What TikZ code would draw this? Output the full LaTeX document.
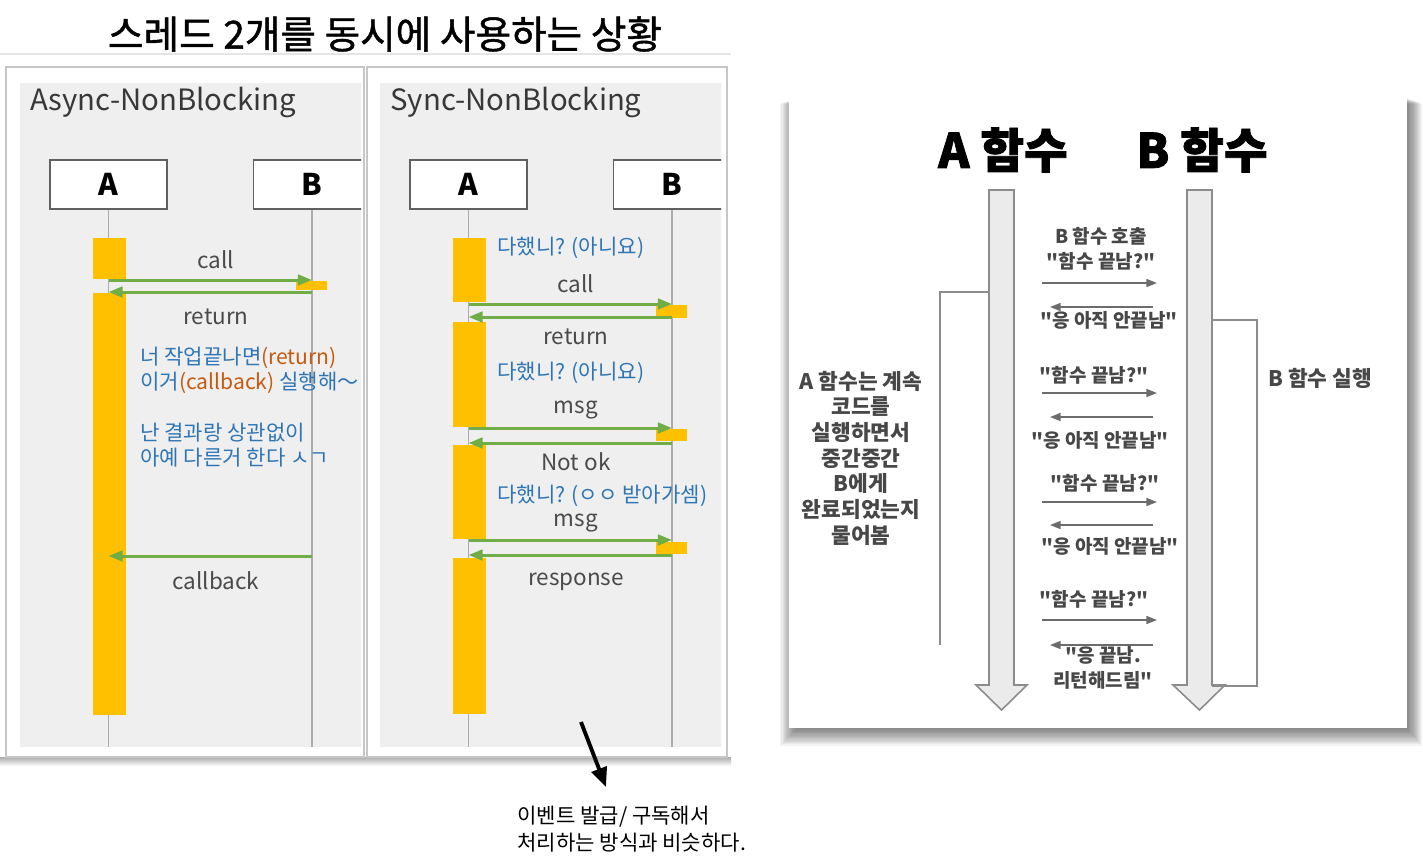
\documentclass[tikz,border=0pt]{standalone}
\usepackage{fontspec}
\setmainfont{Noto Sans CJK KR}[Ligatures=TeXOff]
\newfontfamily\heavyfont{Noto Sans CJK KR}[Ligatures=TeXOff, FakeBold=1.2, BoldFeatures={FakeBold=1.6}]
\usepackage{xcolor}
\usetikzlibrary{arrows.meta}

\definecolor{actyellow}{HTML}{FFC000}
\definecolor{msggreen}{HTML}{70AD47}
\definecolor{noteblue}{HTML}{2E75B6}
\definecolor{noteorange}{HTML}{C55A11}
\definecolor{panelgray}{HTML}{EFEFEF}
\definecolor{labelgray}{HTML}{4A4A4A}
\definecolor{barfill}{HTML}{EBEBEB}

\newcommand{\rtn}[1]{\textcolor{noteorange}{#1}}

\tikzset{
  actor/.style={draw=gray!75!black, fill=white, line width=1.1pt, minimum width=2.34cm, minimum height=0.98cm, inner sep=0, font=\fontsize{17}{20}\selectfont\bfseries},
  life/.style={draw=gray!65, line width=0.85pt},
  act/.style={fill=actyellow},
  msg/.style={draw=msggreen, line width=1.7pt, -{Triangle[length=8pt,width=6pt]}},
  lbl/.style={text=labelgray, font=\fontsize{12.8}{14}\selectfont, inner sep=0},
  note/.style={text=noteblue, font=\fontsize{12}{14.2}\selectfont, align=left, anchor=west, inner sep=0},
  ptitle/.style={text=black!78, font=\fontsize{16.7}{19}\selectfont, anchor=west, inner sep=0},
  frame/.style={draw=gray!45, fill=white, line width=1.1pt},
  fbar/.style={fill=barfill, draw=gray!90, line width=0.9pt},
  ask/.style={draw=gray!85!black, line width=0.9pt, -{Triangle[length=6pt,width=4.5pt]}},
  rtext/.style={text=black!72, font=\fontsize{10.8}{14.2}\selectfont\bfseries, align=center, inner sep=0},
  side/.style={text=black!72, font=\fontsize{12.2}{14.6}\selectfont\bfseries, align=center, inner sep=0},
  head/.style={font=\fontsize{27}{30}\heavyfont\bfseries, inner sep=0}
}

\begin{document}
\begin{tikzpicture}[x=0.02cm, y=-0.02cm]
  \useasboundingbox (0,0) rectangle (1423,863);

  % title
  \node[font=\fontsize{22}{26}\heavyfont, inner sep=0] (title) at (385,34) {스레드 2개를 동시에 사용하는 상황};

  % left screenshot frames
  \draw[gray!20, line width=0.8pt] (0,54) -- (731,54);
  \shade[top color=gray!65, bottom color=white] (0,757) rectangle (731,766);
  \draw[frame] (6,67) rectangle (364,757);
  \draw[frame] (367,67) rectangle (727,757);

  % Async-NonBlocking
  \begin{scope}
    \clip (20,83) rectangle (361,747);
    \fill[panelgray] (20,83) rectangle (362,747);
    \node[ptitle] (t1) at (30,102) {Async-NonBlocking};
    \node[actor] (aA) at (108.5,184.5) {A};
    \node[actor] (aB) at (312,184.5) {B};
    \draw[life] (aA) -- (aA |- 0,747);
    \draw[life] (aB) -- (aB |- 0,747);
    \fill[act] (93,238) rectangle (126,279);
    \fill[act] (93,293) rectangle (126,715);
    \fill[act] (296,281) rectangle (327,290);
    \draw[msg] (aA |- 0,280) -- (aB |- 0,280);
    \draw[msg] (aB |- 0,292) -- (aA |- 0,292);
    \draw[msg] (aB |- 0,556) -- (aA |- 0,556);
    \node[lbl] (aCall) at (216,260) {call};
    \node[lbl] (aRet) at (216,317) {return};
    \node[lbl] (aCb) at (216,581) {callback};
    \node[note] (aN1) at (140,370) {너 작업끝나면\rtn{(return)}\\이거\rtn{(callback)} 실행해～};
    \node[note] (aN2) at (140,445) {난 결과랑 상관없이\\아예 다른거 한다 ㅅㄱ};
  \end{scope}

  % Sync-NonBlocking
  \begin{scope}
    \clip (380,83) rectangle (721,747);
    \fill[panelgray] (380,83) rectangle (722,747);
    \node[ptitle] (t2) at (390,102) {Sync-NonBlocking};
    \node[actor] (sA) at (468.5,184.5) {A};
    \node[actor] (sB) at (672,184.5) {B};
    \draw[life] (sA) -- (sA |- 0,747);
    \draw[life] (sB) -- (sB |- 0,747);
    \fill[act] (453,238) rectangle (486,302);
    \fill[act] (453,322) rectangle (486,427);
    \fill[act] (453,445) rectangle (486,539);
    \fill[act] (453,558) rectangle (486,714);
    \fill[act] (656,305) rectangle (687,318);
    \fill[act] (656,429) rectangle (687,441);
    \fill[act] (656,542) rectangle (687,554);
    \draw[msg] (sA |- 0,304) -- (sB |- 0,304);
    \draw[msg] (sB |- 0,317) -- (sA |- 0,317);
    \draw[msg] (sA |- 0,428) -- (sB |- 0,428);
    \draw[msg] (sB |- 0,443) -- (sA |- 0,443);
    \draw[msg] (sA |- 0,540) -- (sB |- 0,540);
    \draw[msg] (sB |- 0,555) -- (sA |- 0,555);
    \node[note] (sN1) at (497,248) {다했니? (아니요)};
    \node[lbl] (sCall) at (576,284) {call};
    \node[lbl] (sRet) at (576,337) {return};
    \node[note] (sN2) at (497,373) {다했니? (아니요)};
    \node[lbl] (sMsg1) at (576,410) {msg};
    \node[lbl] (sNok) at (576,462) {Not ok};
    \node[note] (sN3) at (497,496) {다했니? (ㅇㅇ 받아가셈)};
    \node[lbl] (sMsg2) at (576,523) {msg};
    \node[lbl] (sResp) at (576,582) {response};
  \end{scope}

  % event note
  \coordinate (evTail) at (581,722);
  \coordinate (evTip) at (606,787);
  \draw[line width=2.2pt, -{Triangle[length=11pt,width=9pt]}] (evTail) -- (evTip);
  \node[anchor=west, align=left, font=\fontsize{12}{15.3}\selectfont, inner sep=0] (evNote) at (517,829) {이벤트 발급/ 구독해서\\처리하는 방식과 비슷하다.};

  % right picture: shadow and sheet
  \foreach \d in {1,...,14}
    \fill[black, opacity=0.045] (789-\d*1.2+8,98+\d*0.4) rectangle (1407+\d*1.1,728+\d*1.25);
  \fill[white] (789,98) rectangle (1407,728);

  \node[head] (hA) at (1003,150) {A 함수};
  \node[head] (hB) at (1202,150) {B 함수};

  \filldraw[fbar] (989,190) -- (1014,190) -- (1014,685) -- (1027,685) -- (1001.5,710) -- (976,685) -- (989,685) -- cycle;
  \filldraw[fbar] (1187,190) -- (1212,190) -- (1212,685) -- (1225,685) -- (1199.5,710) -- (1173,685) -- (1187,685) -- cycle;
  \draw[gray!90, line width=0.9pt] (989,292) -- (940,292) -- (940,645);
  \draw[gray!90, line width=0.9pt] (1212,320) -- (1257,320) -- (1257,686) -- (1212,686);

  \coordinate (askL) at (1042,0);
  \coordinate (askR) at (1157,0);
  \coordinate (ansL) at (1050,0);
  \coordinate (ansR) at (1153,0);
  \foreach \y in {283,393,502,620}
    \draw[ask] (askL |- 0,\y) -- (askR |- 0,\y);
  \foreach \y in {307,417,525,645}
    \draw[ask] (ansR |- 0,\y) -- (ansL |- 0,\y);

  \node[rtext] (q0) at (1101,249) {B 함수 호출\\"함수 끝남?"};
  \node[rtext] (r0) at (1109,320) {"응 아직 안끝남"};
  \node[rtext] (q1) at (1094,375) {"함수 끝남?"};
  \node[rtext] (r1) at (1100,440) {"응 아직 안끝남"};
  \node[rtext] (q2) at (1105,483) {"함수 끝남?"};
  \node[rtext] (r2) at (1110,546) {"응 아직 안끝남"};
  \node[rtext] (q3) at (1094,599) {"함수 끝남?"};
  \node[rtext] (r3) at (1103,668) {"응 끝남.\\리턴해드림"};
  \node[side] (aNote) at (861,458) {A 함수는 계속\\코드를\\실행하면서\\중간중간\\B에게\\완료되었는지\\물어봄};
  \node[side] (bNote) at (1320,378) {B 함수 실행};
\end{tikzpicture}
\end{document}
